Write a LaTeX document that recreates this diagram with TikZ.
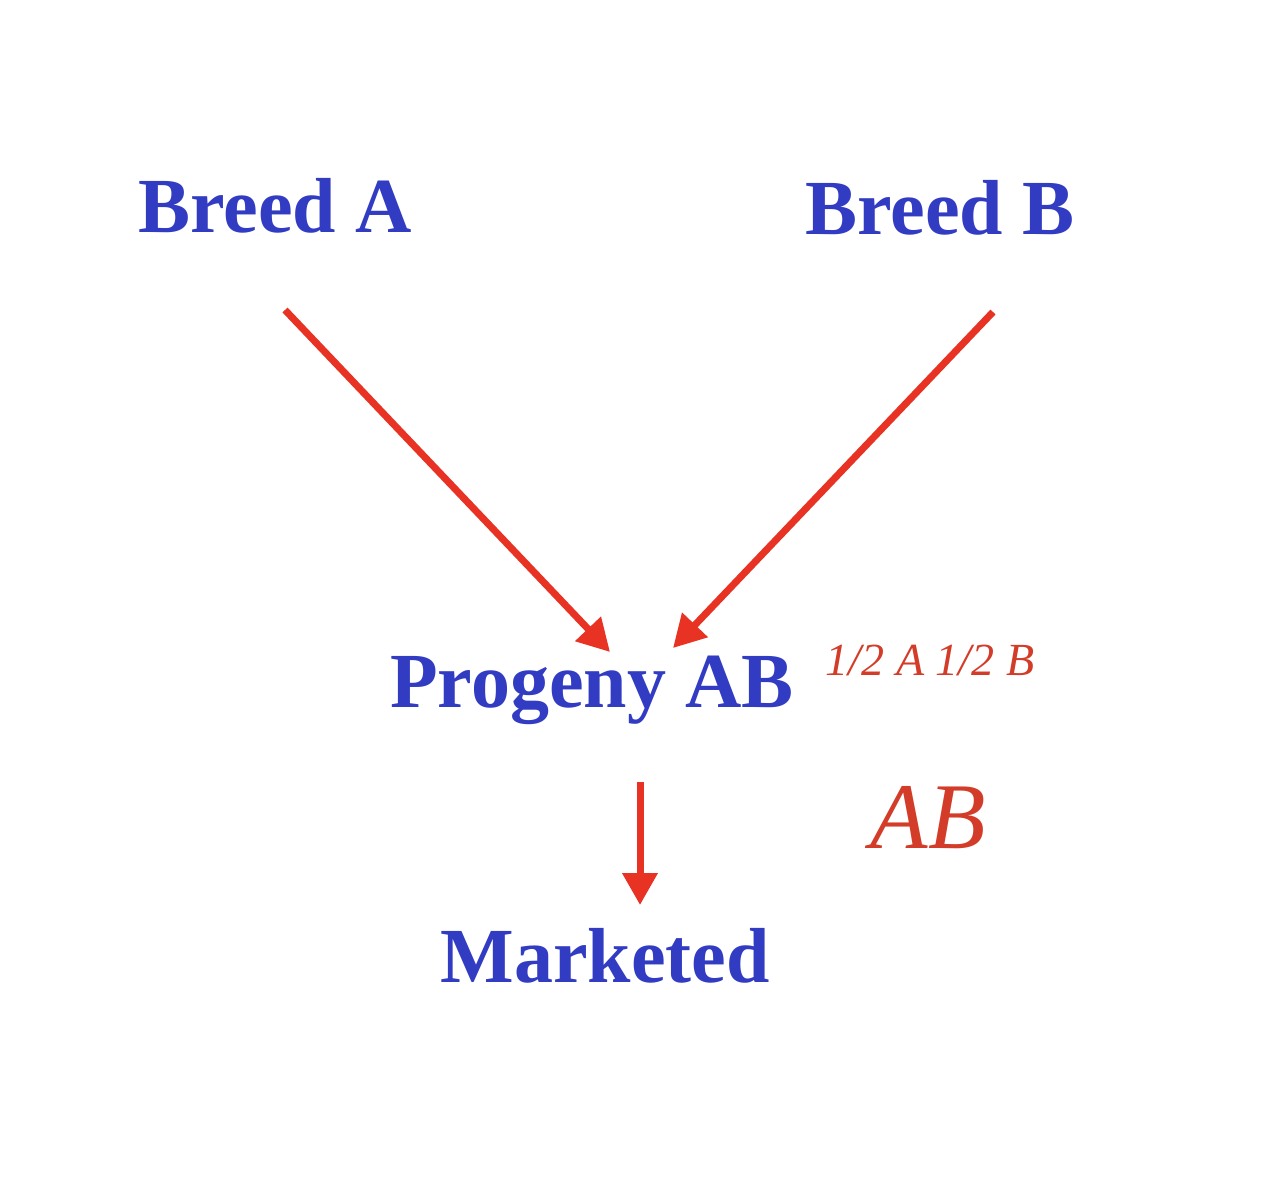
\documentclass[tikz,border=0pt]{standalone}
\usepackage{fontspec}
\setmainfont{Liberation Serif}
\usetikzlibrary{arrows.meta}
\definecolor{breedblue}{RGB}{50,60,195}
\definecolor{arrowred}{RGB}{232,50,35}
\definecolor{textred}{RGB}{210,60,40}
\tikzset{
  breed/.style={text=breedblue,font=\fontsize{78}{90}\selectfont\bfseries,inner sep=0pt,anchor=base},
  share/.style={text=textred,font=\itshape,inner sep=0pt,anchor=base},
  cross/.style={draw=arrowred,line width=7pt,-{Triangle[length=32pt,width=34pt]}}
}
\begin{document}
\begin{tikzpicture}[x=1pt,y=-1pt]
        \useasboundingbox (0,0) rectangle (1282,1200);
        \node[breed] (breedA) at (275,232) {Breed A};
        \node[breed] (breedB) at (940,234) {Breed B};
        \node[breed] (progeny) at (592,707) {Progeny AB};
        \node[breed] (marketed) at (605,982) {Marketed};
        \node[share,font=\fontsize{46}{52}\selectfont\itshape] (half) at (930,675) {1/2 A 1/2 B};
        \node[share,font=\fontsize{94}{100}\selectfont\itshape] (cross) at (928,848) {AB};
        % arrow ends
        \coordinate (fromA) at (285,310);
        \coordinate (toA) at (610,652);
        \coordinate (fromB) at (993,312);
        \coordinate (toB) at (673,648);
        \coordinate (fromP) at (640,782);
        \coordinate (toM) at (640,905);
        \draw[cross] (fromA) -- (toA);
        \draw[cross] (fromB) -- (toB);
        \draw[cross] (fromP) -- (toM);
      \end{tikzpicture}
\end{document}
